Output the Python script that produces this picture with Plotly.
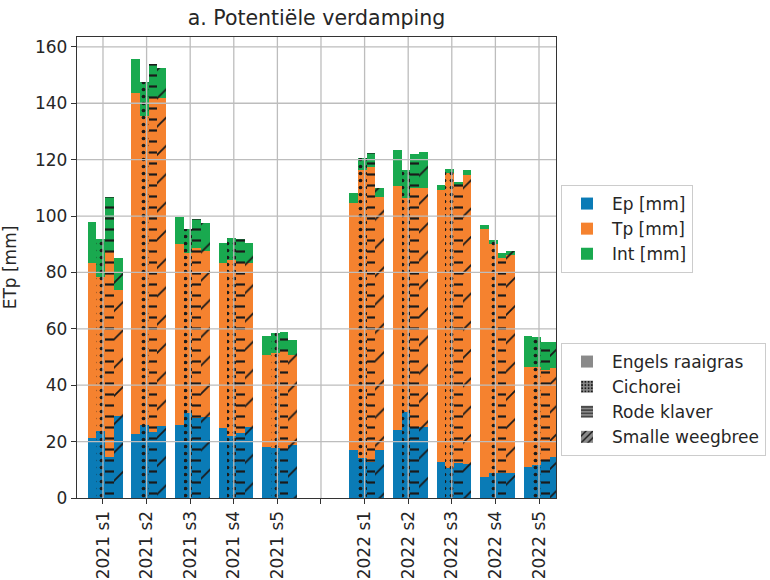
import plotly.graph_objects as go

# Tick labels along the x axis; the empty label separates the two years
TICK_LABELS = ["2021 s1", "2021 s2", "2021 s3", "2021 s4", "2021 s5", "",
               "2022 s1", "2022 s2", "2022 s3", "2022 s4", "2022 s5"]

CROPS = ["Engels raaigras", "Cichorei", "Rode klaver", "Smalle weegbree"]

# Evaporation (Ep), transpiration (Tp) and interception (Int) in mm per crop,
# one value per period (2021 s1..s5, 2022 s1..s5)
EP_RAAIGRAS = [21.4, 22.7, 25.9, 24.7, 18.2, 17.0, 24.1, 12.7, 7.6, 11.1]
TP_RAAIGRAS = [62.0, 121.0, 64.1, 58.5, 32.5, 87.7, 86.5, 96.5, 87.8, 35.5]
INT_RAAIGRAS = [14.4, 12.0, 9.5, 7.1, 6.7, 3.3, 13.0, 1.8, 1.6, 11.0]

EP_CICHOREI = [23.9, 25.9, 30.3, 22.0, 17.6, 14.1, 30.6, 10.8, 9.0, 11.7]
TP_CICHOREI = [54.6, 109.6, 56.5, 62.4, 33.7, 102.2, 75.7, 104.3, 81.1, 34.6]
INT_CICHOREI = [13.2, 12.1, 8.5, 7.7, 7.1, 4.2, 10.2, 1.6, 1.4, 10.7]

EP_KLAVER = [14.6, 23.5, 28.3, 22.9, 17.0, 12.9, 25.3, 12.3, 8.8, 13.2]
TP_KLAVER = [72.7, 118.8, 60.2, 60.5, 35.2, 104.6, 84.7, 98.3, 76.4, 32.2]
INT_KLAVER = [19.3, 11.5, 10.4, 8.3, 6.6, 4.7, 12.0, 1.6, 1.6, 9.8]

EP_WEEGBREE = [29.1, 25.5, 28.6, 25.3, 18.8, 17.0, 25.3, 12.1, 8.8, 14.4]
TP_WEEGBREE = [44.7, 116.3, 59.1, 57.9, 31.9, 89.6, 84.7, 102.4, 77.4, 31.6]
INT_WEEGBREE = [11.2, 10.8, 9.7, 7.1, 5.3, 3.4, 12.6, 1.8, 1.4, 9.4]

Y_TICKS = [0, 20, 40, 60, 80, 100, 120, 140, 160]

COMPONENTS = ["Ep [mm]", "Tp [mm]", "Int [mm]"]
COLORS = ["#0a7bb6", "#f5822f", "#19a94f"]
PATTERNS = ["", ".", "-", "/"]
PATTERN_SIZES = [8, 7, 11, 20]
PATTERN_SOLIDITY = [0.2, 0.22, 0.2, 0.09]
OFFSETS = [-0.25, -0.05, 0.15, 0.35]
BAR_WIDTH = 0.2

data = {
    "Engels raaigras": [EP_RAAIGRAS, TP_RAAIGRAS, INT_RAAIGRAS],
    "Cichorei": [EP_CICHOREI, TP_CICHOREI, INT_CICHOREI],
    "Rode klaver": [EP_KLAVER, TP_KLAVER, INT_KLAVER],
    "Smalle weegbree": [EP_WEEGBREE, TP_WEEGBREE, INT_WEEGBREE],
}

tick_pos = list(range(len(TICK_LABELS)))
group_pos = [i for i, lab in enumerate(TICK_LABELS) if lab]

FONT = "DejaVu Sans"
TEXT = "#262626"
FS = 17

fig = go.Figure()

for ci, crop in enumerate(CROPS):
    xs = [p + OFFSETS[ci] for p in group_pos]
    for k, comp in enumerate(COMPONENTS):
        pattern = dict(shape=PATTERNS[ci], fgcolor="#1a1a1a", fgopacity=1,
                       size=PATTERN_SIZES[ci], solidity=PATTERN_SOLIDITY[ci],
                       fillmode="overlay")
        fig.add_trace(go.Bar(
            x=xs, y=data[crop][k], width=BAR_WIDTH,
            name=comp, legendgroup=comp, legend="legend",
            showlegend=(ci == 0),
            marker=dict(color=COLORS[k], line=dict(width=0),
                        pattern=pattern if PATTERNS[ci] else None),
            hovertemplate=crop + "<br>" + comp + ": %{y:.1f}<extra></extra>",
        ))

# Legend entries for the crops (hatch patterns on grey)
for ci, crop in enumerate(CROPS):
    pattern = dict(shape=PATTERNS[ci], fgcolor="#1a1a1a", fgopacity=1,
                   size=4 if ci != 3 else 6, solidity=0.3, fillmode="overlay")
    fig.add_trace(go.Bar(
        x=[None], y=[None], name=crop, legend="legend2",
        marker=dict(color="#8a8a8a", line=dict(width=0),
                    pattern=pattern if PATTERNS[ci] else None),
    ))

# Grid drawn on top of the bars
grid = dict(color="#bdbdbd", width=1.3)
shapes = []
for yv in Y_TICKS[1:]:
    shapes.append(dict(type="line", xref="paper", yref="y", x0=0, x1=1,
                       y0=yv, y1=yv, line=grid, layer="above"))
for xv in tick_pos:
    shapes.append(dict(type="line", xref="x", yref="paper", x0=xv, x1=xv,
                       y0=0, y1=1, line=grid, layer="above"))

legend_style = dict(xref="container", yref="container",
                    xanchor="left", yanchor="top", bgcolor="white",
                    bordercolor="#cccccc", borderwidth=1,
                    font=dict(family=FONT, size=FS, color=TEXT),
                    itemwidth=40, tracegroupgap=0, traceorder="normal")

axis_common = dict(showgrid=False, zeroline=False, showline=True, mirror=True,
                   linecolor="#333333", linewidth=1.3, ticks="outside",
                   ticklen=5, tickwidth=1.2, tickcolor="#333333",
                   layer="above traces", automargin=False,
                   tickfont=dict(family=FONT, size=FS, color=TEXT))

fig.update_layout(
    width=770, height=580,
    margin=dict(l=77, r=214, t=37, b=82, autoexpand=False),
    paper_bgcolor="white", plot_bgcolor="white",
    barmode="stack", bargap=0,
    font=dict(family=FONT, size=FS, color=TEXT),
    title=dict(text="a. Potentiële verdamping", x=0.5, xref="paper",
               y=1 - 18 / 580, yref="container", yanchor="middle",
               font=dict(family=FONT, size=20.5, color=TEXT)),
    legend=dict(x=561 / 770, y=1 - 185 / 580, **legend_style),
    legend2=dict(x=561 / 770, y=1 - 343 / 580, **legend_style),
    shapes=shapes,
    xaxis=dict(range=[-0.596, 10.39], tickmode="array", tickvals=tick_pos,
               ticktext=TICK_LABELS, tickangle=-90, **axis_common),
    yaxis=dict(range=[0, 163.5], tickmode="array", tickvals=Y_TICKS,
               title=dict(text="ETp [mm]",
                          font=dict(family=FONT, size=FS, color=TEXT)),
               **axis_common),
)

fig.write_html("out.html")
